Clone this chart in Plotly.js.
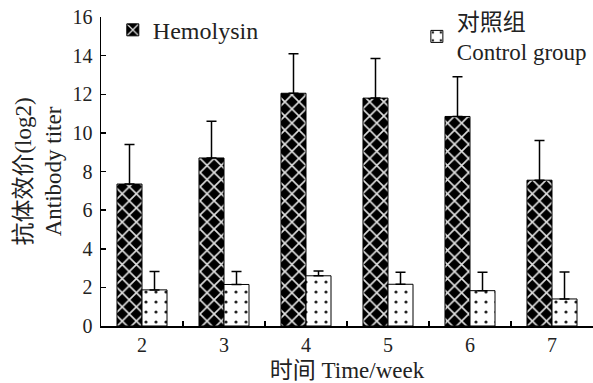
<!DOCTYPE html>
<html>
<head>
<meta charset="utf-8">
<script src="https://cdn.plot.ly/plotly-3.0.1.min.js"></script>
<style>html,body{margin:0;padding:0;background:#fff;}#chart{width:593px;height:383px;}</style>
</head>
<body>
<div id="chart"></div>
<script>
var weeks = ['2', '3', '4', '5', '6', '7'];
var hemolysin = [7.35, 8.7, 12.05, 11.8, 10.85, 7.55];
var hemolysinErr = [2.05, 1.9, 2.05, 2.05, 2.05, 2.05];
var control = [1.87, 2.15, 2.6, 2.16, 1.83, 1.4];
var controlErr = [0.95, 0.67, 0.25, 0.62, 0.95, 1.4];
var zeros = [0, 0, 0, 0, 0, 0];

var FONT = 'Liberation Serif, Noto Sans CJK SC, serif';

var traces = [
  {
    type: 'bar', name: 'Hemolysin', x: weeks, y: hemolysin,
    marker: {
      color: '#000',
      line: {color: '#000', width: 1},
      pattern: {shape: 'x', bgcolor: '#000', fgcolor: '#e0e0e0', size: 10, solidity: 0.3, fillmode: 'replace'}
    },
    error_y: {type: 'data', symmetric: false, array: hemolysinErr, arrayminus: zeros, color: '#000', thickness: 1.5, width: 5},
    legend: 'legend'
  },
  {
    type: 'bar', name: '对照组<br>Control group', x: weeks, y: control,
    marker: {
      color: '#fff',
      line: {color: '#000', width: 1},
      pattern: {shape: '.', bgcolor: '#fff', fgcolor: '#222', size: 10, solidity: 0.08, fillmode: 'replace'}
    },
    error_y: {type: 'data', symmetric: false, array: controlErr, arrayminus: zeros, color: '#000', thickness: 1.5, width: 5},
    legend: 'legend2'
  }
];

var layout = {
  width: 593, height: 383,
  margin: {l: 101, r: 0, t: 17, b: 57},
  paper_bgcolor: '#fff', plot_bgcolor: '#fff',
  font: {family: FONT, size: 20, color: '#222'},
  barmode: 'group', bargap: 0.39, bargroupgap: 0,
  showlegend: true,
  legend: {x: 0.024, y: 1.03, xanchor: 'left', yanchor: 'top', bgcolor: 'rgba(0,0,0,0)', font: {family: FONT, size: 24, color: '#222'}},
  legend2: {x: 0.642, y: 1.056, xanchor: 'left', yanchor: 'top', bgcolor: 'rgba(0,0,0,0)', font: {family: FONT, size: 23, color: '#222'}},
  xaxis: {
    type: 'category', range: [-0.5, 5.5],
    showline: true, linecolor: '#000', linewidth: 1.5,
    ticks: 'inside', tickson: 'boundaries', ticklen: 5, tickcolor: '#000', tickwidth: 1.5,
    showgrid: false, zeroline: false,
    tickfont: {family: FONT, size: 20, color: '#222'},
    title: {text: '时间 Time/week', font: {family: FONT, size: 23, color: '#222'}, standoff: 8}
  },
  yaxis: {
    range: [0, 16], dtick: 2,
    showline: true, linecolor: '#000', linewidth: 1.5,
    ticks: 'inside', ticklen: 5, tickcolor: '#000', tickwidth: 1.5,
    ticklabelstandoff: 3,
    showgrid: false, zeroline: false,
    tickfont: {family: FONT, size: 20, color: '#222'},
    title: {text: '抗体效价(log2)<br>Antibody titer', font: {family: FONT, size: 23, color: '#222'}, standoff: 4}
  }
};

Plotly.newPlot('chart', traces, layout, {displayModeBar: false, staticPlot: true});
</script>
</body>
</html>
